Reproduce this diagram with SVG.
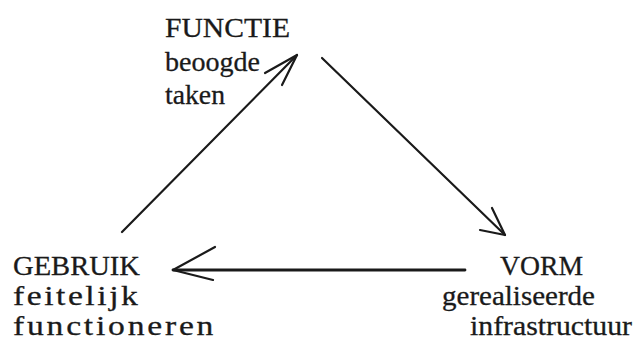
<svg xmlns="http://www.w3.org/2000/svg" width="633" height="350" viewBox="0 0 633 350">
  <style>
    .t { font-family: "Liberation Serif", "Times New Roman", serif; font-size: 28px; fill: #1a1a1a; stroke: #1a1a1a; stroke-width: 0.3; }
    .ln { fill: none; stroke: #1a1a1a; stroke-width: 2.2; stroke-linecap: round; stroke-linejoin: round; }
  </style>
  <rect width="633" height="350" fill="#ffffff"/>
  <g id="connectors">
    <g id="gebruik-functie">
      <path class="ln" d="M122,232 L297,55"/>
      <path class="ln" d="M265,73 L297,55 L282,85"/>
    </g>
    <g id="functie-vorm">
      <path class="ln" d="M322,58 L505,235"/>
      <path class="ln" d="M480,230 L505,235 L492,208"/>
    </g>
    <g id="vorm-gebruik">
      <path class="ln" style="stroke-width:2.8" d="M465,270 L173,270"/>
      <path class="ln" d="M215,247 L173,270 L213,280"/>
    </g>
  </g>
  <g id="functie">
    <text class="t" x="165" y="37" textLength="125" lengthAdjust="spacingAndGlyphs">FUNCTIE</text>
    <text class="t" x="165" y="71" textLength="95" lengthAdjust="spacingAndGlyphs">beoogde</text>
    <text class="t" x="165" y="104" textLength="60" lengthAdjust="spacingAndGlyphs">taken</text>
  </g>
  <g id="gebruik">
    <text class="t" x="13" y="275" textLength="127" lengthAdjust="spacingAndGlyphs">GEBRUIK</text>
    <text class="t" transform="translate(13,0) scale(1.2,1)" x="0" y="305" textLength="104" lengthAdjust="spacing">feitelijk</text>
    <text class="t" transform="translate(13,0) scale(1.2,1)" x="0" y="335" textLength="167" lengthAdjust="spacing">functioneren</text>
  </g>
  <g id="vorm">
    <text class="t" x="500" y="275" textLength="83" lengthAdjust="spacingAndGlyphs">VORM</text>
    <text class="t" x="442" y="305" textLength="153" lengthAdjust="spacingAndGlyphs">gerealiseerde</text>
    <text class="t" x="470" y="335" textLength="162" lengthAdjust="spacingAndGlyphs">infrastructuur</text>
  </g>
</svg>
